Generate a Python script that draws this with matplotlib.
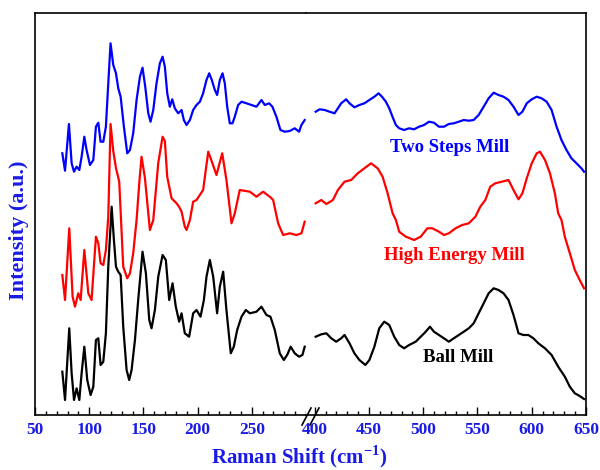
import matplotlib
matplotlib.use('Agg')
import matplotlib.pyplot as plt
from matplotlib.lines import Line2D
from matplotlib.ticker import MultipleLocator, FixedLocator

plt.rcParams['font.family'] = ['Liberation Serif', 'DejaVu Serif']
plt.rcParams['font.weight'] = 'bold'
plt.rcParams['mathtext.fontset'] = 'custom'
plt.rcParams['mathtext.rm'] = 'Liberation Serif:bold'
plt.rcParams['mathtext.bf'] = 'Liberation Serif:bold'

# ---- data ----
# Two Steps Mill
two_x_lo = [75.2, 77.7, 81.3, 83.8, 86.0, 88.4, 90.9, 93.0, 95.5, 97.6,
            100.7, 103.8, 106.2, 108.4, 110.5, 113.0, 115.4, 117.6, 119.7, 122.2,
            124.7, 126.8, 129.0, 132.0, 135.1, 137.6, 140.6, 143.7, 146.8, 149.2,
            151.7, 154.5, 156.6, 159.1, 162.1, 165.2, 167.7, 169.8, 172.0, 174.4,
            176.6, 179.0, 182.1, 185.2, 187.3, 189.8, 192.9, 195.9, 199.0, 202.1,
            205.1, 208.2, 210.7, 213.1, 215.9, 218.0, 220.5, 223.0, 225.1, 227.3,
            229.7, 232.2, 234.3, 237.4, 240.5, 245.1, 249.7, 254.3, 258.9, 262.0,
            266.0, 269.0, 272.7, 276.4, 280.4, 285.0, 289.6, 293.6, 295.8, 298.8]
two_y_lo = [259.7, 242.3, 289.0, 249.7, 241.3, 246.3, 243.0, 256.3, 276.3, 263.0,
            248.0, 253.0, 286.3, 290.3, 271.3, 271.3, 286.3, 329.7, 369.7, 348.0,
            339.7, 324.7, 316.3, 286.3, 259.7, 263.0, 279.7, 313.0, 336.3, 345.3,
            326.3, 299.7, 291.3, 303.0, 329.7, 349.7, 356.3, 346.3, 319.7, 306.3,
            313.7, 304.7, 299.7, 303.0, 293.0, 288.0, 293.0, 303.0, 308.0, 311.3,
            319.7, 333.0, 339.7, 333.0, 323.0, 318.0, 333.0, 339.7, 329.7, 306.3,
            289.7, 289.7, 296.3, 308.0, 311.3, 309.7, 308.0, 306.3, 313.0, 308.0,
            309.7, 306.3, 296.3, 283.0, 281.3, 282.0, 284.7, 281.3, 288.0, 293.0]
two_x_hi = [400.9, 404.6, 409.2, 413.7, 418.3, 421.4, 424.4, 429.0, 432.1, 436.6,
            441.2, 445.8, 450.4, 455.0, 458.9, 462.0, 465.6, 468.7, 471.7, 474.8,
            477.9, 482.4, 487.0, 491.6, 496.2, 500.8, 505.3, 509.9, 514.5, 519.1,
            523.6, 528.2, 532.8, 537.4, 542.0, 546.5, 551.1, 555.7, 560.3, 564.9,
            569.4, 574.0, 578.6, 583.2, 587.8, 591.4, 595.4, 600.0, 604.6, 609.1,
            613.7, 618.3, 622.9, 627.4, 632.0, 636.6, 641.2, 645.8, 648.2]
two_y_hi = [301.3, 303.7, 303.0, 301.3, 299.7, 304.7, 309.7, 313.7, 309.7, 305.7,
            308.0, 309.7, 313.0, 316.3, 319.7, 316.3, 311.3, 304.7, 296.3, 288.0,
            284.7, 283.0, 284.7, 283.7, 286.3, 288.0, 291.3, 290.3, 286.3, 286.3,
            289.0, 289.7, 291.3, 293.0, 292.3, 293.0, 298.0, 306.3, 314.7, 320.3,
            318.0, 316.3, 313.0, 306.3, 298.0, 301.3, 309.7, 313.7, 316.3, 314.7,
            311.3, 303.0, 286.3, 273.0, 263.0, 254.7, 249.7, 244.7, 241.3]

# High Energy Mill
high_x_lo = [75.2, 77.7, 81.6, 84.7, 86.9, 89.9, 92.1, 95.5, 99.2, 102.2,
             106.2, 108.4, 110.5, 113.0, 115.4, 117.6, 119.7, 122.2, 124.7, 127.7,
             131.4, 135.1, 137.6, 140.6, 143.7, 146.2, 148.3, 151.4, 156.0, 159.1,
             163.7, 167.7, 169.8, 172.0, 176.0, 180.6, 183.0, 185.2, 188.2, 189.8,
             192.9, 195.9, 199.0, 205.1, 209.8, 213.7, 217.4, 222.7, 226.6, 231.3,
             234.3, 238.9, 248.2, 254.3, 260.4, 266.6, 269.7, 274.3, 278.9, 285.0,
             291.2, 295.8, 298.8]
high_y_lo = [138.0, 113.0, 184.7, 116.3, 106.3, 119.7, 113.0, 163.0, 119.7, 113.0,
             176.3, 169.7, 149.7, 148.0, 163.0, 196.3, 289.0, 262.0, 245.0, 231.3,
             146.3, 134.7, 139.7, 159.7, 193.0, 230.0, 256.3, 235.0, 183.0, 193.0,
             250.0, 276.3, 272.0, 236.0, 214.7, 209.7, 206.0, 201.3, 186.3, 183.0,
             193.0, 211.3, 213.0, 223.0, 261.3, 249.7, 238.0, 259.7, 233.0, 189.7,
             199.7, 223.0, 221.3, 216.3, 221.3, 216.3, 213.0, 189.7, 178.0, 179.7,
             178.0, 179.7, 191.3]
high_x_hi = [400.9, 406.1, 410.7, 416.8, 421.4, 427.5, 433.6, 439.7, 445.8, 451.9,
             458.0, 462.6, 467.2, 471.8, 474.8, 477.9, 484.0, 491.6, 497.7, 503.8,
             508.4, 514.5, 519.1, 523.6, 529.8, 535.9, 542.0, 548.1, 552.6, 557.2,
             561.8, 566.4, 572.5, 578.6, 583.2, 587.8, 591.4, 595.4, 600.0, 604.6,
             607.6, 612.2, 616.8, 621.3, 624.4, 627.4, 630.5, 635.1, 639.7, 644.2,
             648.2]
high_y_hi = [209.7, 213.0, 209.0, 213.0, 223.0, 231.3, 233.0, 239.7, 244.7, 249.7,
             244.7, 236.3, 219.7, 199.7, 193.0, 181.3, 176.3, 173.0, 176.3, 184.7,
             184.7, 181.3, 178.0, 179.7, 184.7, 188.0, 189.7, 196.3, 206.3, 213.0,
             226.3, 229.7, 231.3, 233.0, 223.0, 213.7, 219.7, 234.7, 249.7, 259.7,
             261.3, 253.0, 239.7, 219.7, 199.7, 193.0, 176.3, 159.7, 143.0, 133.0,
             124.7]

# Ball Mill
ball_x_lo = [75.2, 77.7, 81.6, 83.8, 86.0, 88.4, 90.9, 93.0, 95.5, 98.2,
             101.3, 103.8, 106.2, 108.4, 110.5, 113.0, 115.4, 117.6, 120.7, 122.8,
             124.7, 126.8, 129.0, 131.4, 134.5, 136.9, 139.1, 142.2, 145.2, 149.2,
             152.3, 155.4, 157.5, 160.6, 163.7, 167.7, 170.7, 173.8, 176.9, 179.9,
             183.0, 185.2, 188.2, 192.2, 195.9, 199.0, 202.7, 205.8, 208.2, 211.3,
             214.4, 218.0, 220.5, 223.6, 226.6, 230.6, 233.4, 236.5, 240.5, 244.5,
             248.2, 254.3, 258.9, 263.5, 267.2, 271.2, 275.8, 279.5, 282.6, 285.9,
             289.6, 293.6, 296.7, 298.8]
ball_y_lo = [41.3, 13.0, 84.7, 39.7, 13.0, 24.7, 13.0, 39.7, 66.3, 33.0,
             18.0, 26.3, 73.0, 74.7, 48.0, 51.3, 79.7, 146.3, 206.3, 173.0,
             146.3, 141.3, 138.0, 86.3, 43.0, 33.0, 43.0, 73.0, 113.0, 161.3,
             139.7, 93.0, 84.7, 103.0, 136.3, 158.0, 153.0, 113.0, 129.7, 106.3,
             91.3, 99.7, 79.7, 76.3, 99.7, 103.0, 96.3, 113.0, 136.3, 153.0,
             136.3, 99.7, 126.3, 141.3, 103.0, 59.7, 66.3, 83.0, 96.3, 103.0,
             99.7, 101.3, 106.3, 98.0, 96.3, 83.0, 59.7, 53.0, 58.0, 66.3,
             59.7, 56.3, 58.0, 66.3]
ball_x_hi = [400.9, 406.1, 410.7, 415.3, 419.8, 424.4, 427.5, 432.1, 436.6, 441.2,
             446.7, 450.4, 455.0, 459.5, 464.1, 468.7, 473.3, 477.9, 482.4, 487.0,
             493.1, 497.7, 502.3, 506.2, 509.9, 514.5, 519.1, 523.6, 528.2, 532.8,
             537.4, 542.0, 546.5, 551.1, 555.7, 560.3, 564.9, 569.4, 574.0, 578.6,
             583.2, 587.8, 592.3, 596.9, 601.5, 606.1, 612.2, 618.3, 624.4, 630.5,
             635.1, 639.7, 644.2, 648.2]
ball_y_hi = [76.3, 78.7, 79.7, 74.7, 71.3, 74.7, 78.0, 69.7, 59.7, 53.0,
             48.0, 53.0, 66.3, 84.7, 91.3, 88.0, 76.3, 68.0, 64.7, 68.0,
             71.3, 76.3, 81.3, 86.3, 81.3, 78.0, 74.7, 71.3, 74.7, 78.0,
             81.3, 84.7, 89.7, 99.7, 109.7, 119.7, 124.7, 123.0, 119.7, 113.0,
             98.0, 79.7, 78.0, 78.0, 74.7, 69.7, 64.7, 58.0, 46.3, 36.3,
             26.3, 19.7, 17.0, 14.0]

labels = ['Two Steps Mill', 'High Energy Mill', 'Ball Mill']
colors = ['#0000ff', '#ff0000', '#000000']
label_xy = [(524, 266), (529, 158), (532, 56)]

lo_ticks = [50, 100, 150, 200, 250]
hi_ticks = [400, 450, 500, 550, 600, 650]

# ---- figure ----
W, H = 600, 470
fig = plt.figure(figsize=(6, 4.7), dpi=100)
bot = 1 - 415 / H
top = 1 - 13 / H
ax1 = fig.add_axes([35 / W, bot, 271 / W, top - bot])
ax2 = fig.add_axes([306 / W, bot, 280 / W, top - bot], sharey=ax1)

series = [(two_x_lo, two_y_lo, two_x_hi, two_y_hi),
          (high_x_lo, high_y_lo, high_x_hi, high_y_hi),
          (ball_x_lo, ball_y_lo, ball_x_hi, ball_y_hi)]
for (xl, yl, xh, yh), c in zip(series, colors):
    ax1.plot(xl, yl, color=c, lw=1.6)
    ax2.plot(xh, yh, color=c, lw=1.6)

ax1.set_xlim(50, 300)
ax2.set_xlim(392, 650)
ax1.set_ylim(-2, 400)

blue = '#1a1ae6'
for ax, ticks in [(ax1, lo_ticks), (ax2, hi_ticks)]:
    ax.xaxis.set_major_locator(FixedLocator(ticks))
    ax.xaxis.set_minor_locator(MultipleLocator(10))
    ax.tick_params(axis='x', which='major', direction='in', length=6, width=1,
                   labelsize=12.5, labelcolor=blue, pad=5)
    ax.tick_params(axis='x', which='minor', direction='in', length=3, width=1)
    ax.tick_params(axis='y', left=False, right=False, labelleft=False)
    for s in ax.spines.values():
        s.set_linewidth(1.2)
    for lab in ax.get_xticklabels():
        lab.set_fontweight('bold')

ax1.spines['right'].set_visible(False)
ax2.spines['left'].set_visible(False)

# break marks on the x axis
for dx in (0, 8):
    x0, y0 = (302 + dx) / W, 1 - 425 / H
    x1, y1 = (311 + dx) / W, 1 - 408 / H
    fig.add_artist(Line2D([x0, x1], [y0, y1], color='black', lw=1.2,
                          transform=fig.transFigure))

for txt, c, (tx, ty) in zip(labels, colors, label_xy):
    ax2.text(tx, ty, txt, color=c, fontsize=13.5, fontweight='bold',
             ha='center', va='center')

fig.text(299 / W, 1 - 457 / H, r'Raman Shift (cm$^{-1}$)', color=blue,
         fontsize=15, fontweight='bold', ha='center', va='center')
fig.text(19 / W, 1 - 230 / H, 'Intensity (a.u.)', color=blue, fontsize=16,
         fontweight='bold', rotation=90, ha='center', va='center')

fig.savefig('out.png', dpi=100)
